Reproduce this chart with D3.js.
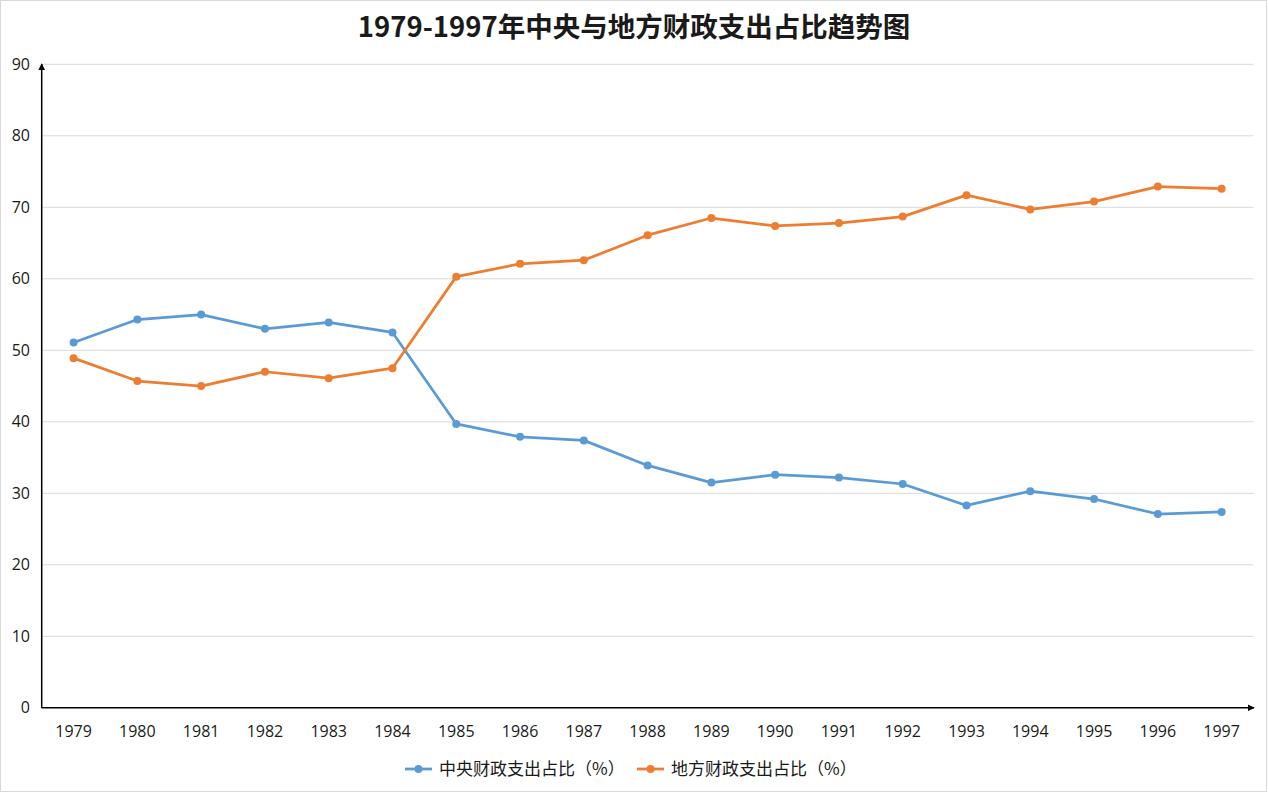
<!DOCTYPE html>
<html>
<head>
<meta charset="utf-8">
<script src="https://cdn.jsdelivr.net/npm/d3@7"></script>
<style>
  body { margin: 0; background: #fff; }
  text { font-family: "Open Sans", "Noto Sans", "Noto Sans CJK SC", sans-serif; fill: #1a1a1a; }
</style>
</head>
<body>
<div class="chartCont"></div>
<script>
var w = 1269;
var h = 794;

// data
const years = ["1979","1980","1981","1982","1983","1984","1985","1986","1987","1988",
               "1989","1990","1991","1992","1993","1994","1995","1996","1997"];
const central = [51.1, 54.3, 55.0, 53.0, 53.9, 52.5, 39.7, 37.9, 37.4, 33.9,
                 31.5, 32.6, 32.2, 31.3, 28.3, 30.3, 29.2, 27.1, 27.4];
const local = [48.9, 45.7, 45.0, 47.0, 46.1, 47.5, 60.3, 62.1, 62.6, 66.1,
               68.5, 67.4, 67.8, 68.7, 71.7, 69.7, 70.8, 72.9, 72.6];
const yTicks = [0, 10, 20, 30, 40, 50, 60, 70, 80, 90];
const seriesNames = ["中央财政支出占比（%）", "地方财政支出占比（%）"];
const colors = ["#5B9BD5", "#ED7D31"];

var svg = d3.select(".chartCont").append("svg")
    .attr("width", w)
    .attr("height", h);

// outer frame
svg.append("rect")
    .attr("x", 0.5).attr("y", 0.5)
    .attr("width", w - 3).attr("height", h - 3)
    .attr("fill", "#fff")
    .attr("stroke", "#d9d9d9");

var plotL = 41.7, plotR = 1253.5, plotT = 64.3, plotB = 707.8;

var x = d3.scalePoint()
    .domain(years)
    .range([plotL, plotR])
    .padding(0.5);

var y = d3.scaleLinear()
    .domain([0, 90])
    .range([plotB, plotT]);

// gridlines
svg.append("g")
    .selectAll("line")
    .data(yTicks.filter(d => d > 0))
    .enter()
    .append("line")
    .attr("x1", plotL).attr("x2", plotR)
    .attr("y1", d => y(d)).attr("y2", d => y(d))
    .attr("stroke", "#d9d9d9")
    .attr("stroke-width", 1);

// y tick labels
svg.append("g")
    .selectAll("text")
    .data(yTicks)
    .enter()
    .append("text")
    .attr("x", 30)
    .attr("y", d => y(d))
    .attr("dy", "0.35em")
    .attr("text-anchor", "end")
    .attr("font-size", 16)
    .text(d => d);

// x tick labels
svg.append("g")
    .selectAll("text")
    .data(years)
    .enter()
    .append("text")
    .attr("x", d => x(d))
    .attr("y", 737)
    .attr("text-anchor", "middle")
    .attr("font-size", 16)
    .text(d => d);

// axes with arrows
var defs = svg.append("defs");
defs.append("marker")
    .attr("id", "arrow")
    .attr("viewBox", "0 0 10 10")
    .attr("refX", 9).attr("refY", 5)
    .attr("markerWidth", 4.5).attr("markerHeight", 4.5)
    .attr("orient", "auto")
    .append("path")
    .attr("d", "M0,0 L10,5 L0,10 z")
    .attr("fill", "#000");

svg.append("line")
    .attr("x1", plotL).attr("x2", plotL)
    .attr("y1", plotB).attr("y2", 64)
    .attr("stroke", "#000").attr("stroke-width", 1.5)
    .attr("marker-end", "url(#arrow)");

svg.append("line")
    .attr("x1", plotL).attr("x2", 1254)
    .attr("y1", plotB).attr("y2", plotB)
    .attr("stroke", "#000").attr("stroke-width", 1.5)
    .attr("marker-end", "url(#arrow)");

// series
var line = d3.line()
    .x((d, i) => x(years[i]))
    .y(d => y(d));

[central, local].forEach((vals, k) => {
  svg.append("path")
      .datum(vals)
      .attr("fill", "none")
      .attr("stroke", colors[k])
      .attr("stroke-width", 2.75)
      .attr("stroke-linejoin", "round")
      .attr("d", line);

  svg.append("g")
      .selectAll("circle")
      .data(vals)
      .enter()
      .append("circle")
      .attr("cx", (d, i) => x(years[i]))
      .attr("cy", d => y(d))
      .attr("r", 4)
      .attr("fill", colors[k]);
});

// title
svg.append("text")
    .attr("x", 634)
    .attr("y", 37)
    .attr("text-anchor", "middle")
    .attr("font-size", 27.5)
    .attr("font-weight", "bold")
    .style("font-family", "'Noto Sans CJK SC', sans-serif")
    .text("1979-1997年中央与地方财政支出占比趋势图");

// legend
var legendX = [405, 637];
seriesNames.forEach((name, k) => {
  var g = svg.append("g").attr("transform", "translate(" + legendX[k] + ",769)");
  g.append("line")
      .attr("x1", 0).attr("x2", 27)
      .attr("stroke", colors[k]).attr("stroke-width", 2.75);
  g.append("circle")
      .attr("cx", 13.5).attr("r", 4)
      .attr("fill", colors[k]);
  g.append("text")
      .attr("x", 34)
      .attr("dy", "0.35em")
      .attr("font-size", 17)
      .style("font-family", "'Noto Sans CJK SC', sans-serif")
      .text(name);
});
</script>
</body>
</html>
